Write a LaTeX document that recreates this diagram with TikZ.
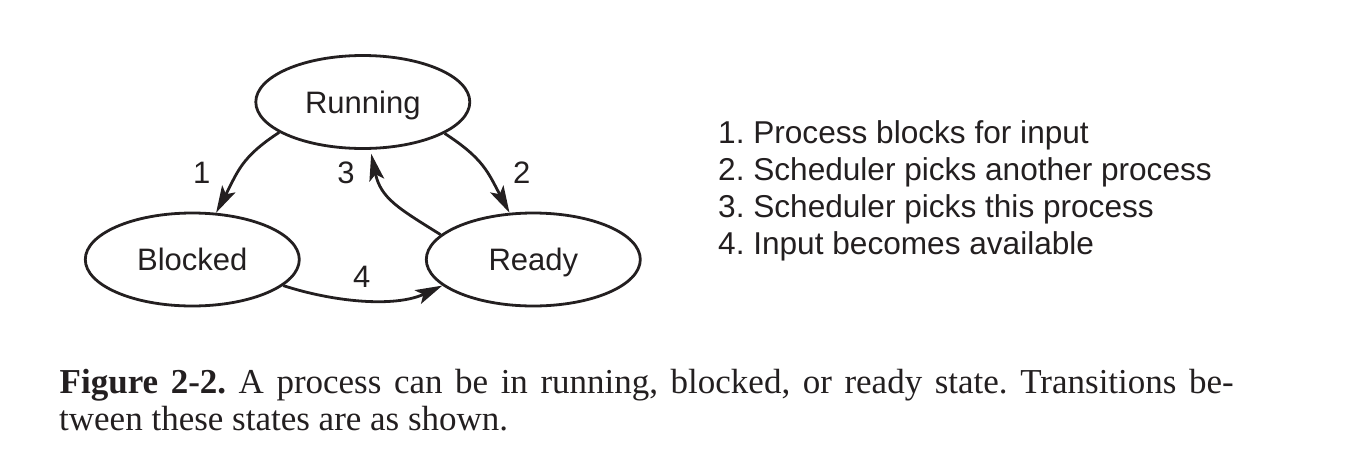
\documentclass[tikz,border=0pt]{standalone}
\usepackage{fontspec}
\setmainfont{Liberation Serif}
\newfontfamily\arialf{Liberation Sans}
\usetikzlibrary{arrows.meta,shapes.geometric}
\definecolor{ink}{RGB}{35,31,32}
\begin{document}
\frenchspacing
\begin{tikzpicture}[x=1pt,y=1pt,
  state/.style={ellipse, draw=ink, line width=2.8pt, minimum width=214pt, minimum height=93pt, inner sep=0pt,
    font=\arialf\fontsize{31}{37}\selectfont, text=ink, text height=22.2pt, text depth=0pt},
  lbl/.style={font=\arialf\fontsize{31}{37}\selectfont, text=ink, inner sep=0pt, text height=22.2pt, text depth=0pt},
  legend/.style={font=\arialf\fontsize{31.6}{37}\selectfont, text=ink, inner sep=0pt, anchor=base west},
  capt/.style={font=\fontsize{35}{37}\selectfont, text=ink, inner sep=0pt, anchor=base west},
  arr/.style={draw=ink, line width=2.8pt, -{Stealth[length=27pt, width=15pt, inset=6pt]}}
]
\useasboundingbox (0,0) rectangle (1366,-472);
\node[state] (Running) at (362.8,-102) {Running};
\node[state] (Blocked) at (192.3,-259.5) {Blocked};
\node[state] (Ready) at (533.3,-259.5) {Ready};

\draw[arr] (Running.200.5) to[out=213, in=62, looseness=1.15] (Blocked.63);
\draw[arr] (Running.339.5) to[out=-33, in=118, looseness=1.15] (Ready.117);
\draw[arr, shorten >=4pt] (Ready.165.3) to[out=148, in=-78, looseness=1.15] (Running.279.6);
\draw[arr] (Blocked.-16.3) to[out=-18, in=205, looseness=0.85] (Ready.196.9);

\node[lbl] (l1) at (201.7,-172) {1};
\node[lbl] (l2) at (521.7,-172) {2};
\node[lbl] (l3) at (346,-172.5) {3};
\node[lbl] (l4) at (361.7,-276.7) {4};

\node[legend] (g1) at (718,-143.3) {1. Process blocks for input};
\node[legend] (g2) at (718,-180.5) {2. Scheduler picks another process};
\node[legend] (g3) at (718,-217.3) {3. Scheduler picks this process};
\node[legend] (g4) at (718,-254) {4. Input becomes available};

\node[capt] (c1) at (59.5,-393.3) {\makebox[1174pt][s]{\textbf{Figure 2-2.} A process can be in running, blocked, or ready state. Transitions be-}};
\node[capt] (c2) at (59,-430) {tween these states are as shown.};
\end{tikzpicture}
\end{document}
